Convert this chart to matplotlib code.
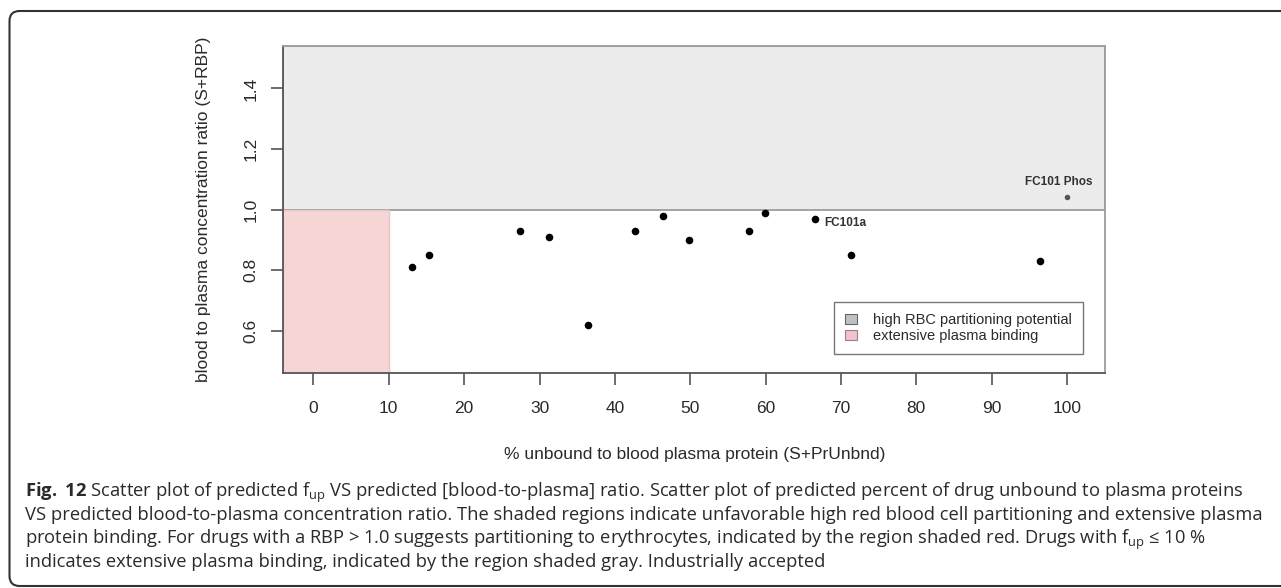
import numpy as np
import matplotlib as mpl
import matplotlib.pyplot as plt
from matplotlib.patches import Rectangle, Patch, FancyBboxPatch
from matplotlib.transforms import IdentityTransform

mpl.use('agg')

##--##--  predicted values  --##--##
fup = [13.1, 15.4, 27.4, 31.3, 36.5, 42.7, 46.4, 49.8, 57.8, 59.9, 66.6, 71.4, 96.4]
rbp = [0.81, 0.85, 0.93, 0.91, 0.62, 0.93, 0.98, 0.90, 0.93, 0.99, 0.97, 0.85, 0.83]
fc101a_fup, fc101a_rbp = 66.6, 0.97
phos_fup, phos_rbp = 100.0, 1.04

fup_cut = 10.0     # extensive plasma binding below this
rbp_cut = 1.0      # RBC partitioning above this

xticks = list(range(0, 101, 10))
yticks = [0.6, 0.8, 1.0, 1.2, 1.4]
ytick_labels = ['0.6', '0.8', '1.0', '1.2', '1.4']

caption = [
    r"$\mathbf{Fig.}$ $\mathbf{12}$ Scatter plot of predicted f$_\mathregular{up}$ VS predicted [blood-to-plasma] ratio. Scatter plot of predicted percent of drug unbound to plasma proteins",
    "VS predicted blood-to-plasma concentration ratio. The shaded regions indicate unfavorable high red blood cell partitioning and extensive plasma",
    r"protein binding. For drugs with a RBP > 1.0 suggests partitioning to erythrocytes, indicated by the region shaded red. Drugs with f$_\mathregular{up}$ ≤ 10 %",
    "indicates extensive plasma binding, indicated by the region shaded gray. Industrially accepted",
]

plt.rcParams['font.family'] = ['Liberation Sans', 'DejaVu Sans']
plt.rcParams['mathtext.fontset'] = 'custom'
plt.rcParams['mathtext.rm'] = 'Open Sans'
plt.rcParams['mathtext.bf'] = 'Open Sans:bold'

W, H = 1281, 588
fig = plt.figure(figsize=(W / 100, H / 100), dpi=100)

ax = fig.add_axes([283 / W, 1 - 373 / H, 822 / W, 327 / H])
xmin, xmax = -4.04, 105.04
ymin, ymax = 0.46, 1.54
ax.set_xlim(xmin, xmax)
ax.set_ylim(ymin, ymax)

# shaded regions
ax.add_patch(Rectangle((xmin, rbp_cut), xmax - xmin, ymax - rbp_cut,
                       facecolor='#ececec', edgecolor='#9c9c9c', lw=1.3, zorder=1))
ax.add_patch(Rectangle((xmin, ymin), fup_cut - xmin, rbp_cut - ymin,
                       facecolor='#f5d6d5', edgecolor='#e9c6c5', lw=1.0, zorder=1))

ax.scatter(fup, rbp, s=30, color='black', zorder=3, linewidths=0)
ax.scatter([phos_fup], [phos_rbp], s=16, color='#555555', zorder=3, linewidths=0)

ax.annotate('FC101a', (fc101a_fup, fc101a_rbp), xytext=(6.5, -3.5), textcoords='offset points',
            ha='left', va='center', fontsize=8.5, fontweight='bold', color='#333333')
ax.annotate('FC101 Phos', (phos_fup, phos_rbp), xytext=(-6, 11), textcoords='offset points',
            ha='center', va='center', fontsize=8.5, fontweight='bold', color='#333333')

ax.set_xticks(xticks)
ax.set_yticks(yticks)
ax.set_yticklabels(ytick_labels, rotation=90, va='center')
ax.tick_params(axis='both', length=8.5, width=1.2, color='#555555', labelcolor='#2a2a2a', labelsize=12.5)
ax.tick_params(axis='x', pad=12)
ax.tick_params(axis='y', pad=9)

for side in ['left', 'bottom']:
    ax.spines[side].set_color('#555555')
    ax.spines[side].set_linewidth(1.3)
for side in ['top', 'right']:
    ax.spines[side].set_color('#9c9c9c')
    ax.spines[side].set_linewidth(1.3)

ax.set_xlabel('% unbound to blood plasma protein (S+PrUnbnd)', fontsize=12.5, color='#2a2a2a')
ax.set_ylabel('blood to plasma concentration ratio (S+RBP)', fontsize=12.5, color='#2a2a2a')
ax.xaxis.set_label_coords(0.501, -0.226)
ax.yaxis.set_label_coords(-0.088, 0.5)

handles = [Patch(facecolor='#c0c0c0', edgecolor='#666666', lw=0.8, label='high RBC partitioning potential'),
           Patch(facecolor='#f7c0cb', edgecolor='#888888', lw=0.8, label='extensive plasma binding')]
leg = ax.legend(handles=handles, loc='lower right', bbox_to_anchor=(0.973, 0.058),
                fontsize=10.5, frameon=True, fancybox=False, framealpha=1,
                handlelength=0.8, handleheight=0.7, handletextpad=1.1, borderpad=0.75,
                labelspacing=0.15, borderaxespad=0)
leg.get_frame().set_edgecolor('#777777')
leg.get_frame().set_linewidth(1.0)
for t in leg.get_texts():
    t.set_color('#2a2a2a')

# caption text
baselines = [497, 520.3, 543.6, 567]
for line, yb in zip(caption, baselines):
    fig.text(25 / W, 1 - yb / H, line, fontsize=13.2, color='#2a2a2a',
             family=['Open Sans', 'DejaVu Sans'], ha='left', va='baseline')

# outer rounded frame
frame = FancyBboxPatch((9.5, 2), 1300, 575, boxstyle='round,pad=0,rounding_size=10',
                       transform=IdentityTransform(), facecolor='none',
                       edgecolor='#333333', lw=1.5)
fig.patches.append(frame)

fig.savefig('out.png', dpi=100)
